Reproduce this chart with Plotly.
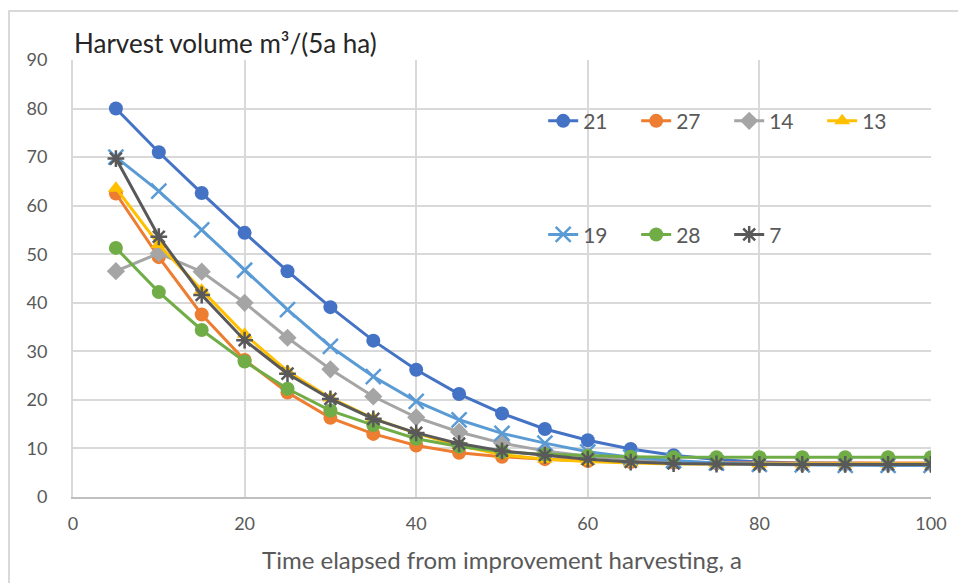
import plotly.graph_objects as go

# Years since improvement harvesting
years = [5, 10, 15, 20, 25, 30, 35, 40, 45, 50, 55, 60, 65, 70, 75, 80, 85, 90, 95, 100]

# Harvest volume per stand, m3 per 5-year period per hectare
stand_21 = [80.0, 71.0, 62.6, 54.4, 46.5, 39.1, 32.2, 26.2, 21.2, 17.2, 14.0, 11.7, 9.9, 8.6, 7.7, 7.2, 7.0, 6.9, 6.9, 6.9]
stand_27 = [62.5, 49.4, 37.6, 28.2, 21.5, 16.3, 13.0, 10.6, 9.1, 8.3, 7.8, 7.4, 7.2, 7.1, 7.0, 7.0, 7.0, 7.0, 7.0, 7.0]
stand_14 = [46.5, 50.2, 46.4, 40.0, 32.8, 26.3, 20.7, 16.4, 13.4, 11.1, 9.5, 8.4, 7.7, 7.3, 7.0, 6.9, 6.8, 6.8, 6.8, 6.8]
stand_13 = [63.6, 52.0, 42.6, 33.5, 25.9, 20.4, 16.2, 13.1, 10.6, 8.7, 7.8, 7.3, 7.0, 6.8, 6.8, 6.8, 6.8, 6.8, 6.8, 6.8]
stand_19 = [70.0, 63.0, 55.0, 46.7, 38.6, 31.0, 24.8, 19.7, 15.9, 13.1, 11.1, 9.3, 8.2, 7.5, 7.0, 6.7, 6.6, 6.5, 6.5, 6.5]
stand_28 = [51.3, 42.2, 34.4, 27.9, 22.3, 17.8, 14.8, 12.0, 10.4, 9.3, 8.8, 8.5, 8.3, 8.2, 8.2, 8.2, 8.2, 8.2, 8.2, 8.2]
stand_7 = [69.7, 53.6, 41.6, 32.3, 25.4, 20.2, 16.1, 13.2, 11.0, 9.5, 8.6, 7.8, 7.2, 6.9, 6.8, 6.7, 6.7, 6.7, 6.7, 6.7]

x_ticks = [0, 20, 40, 60, 80, 100]
y_ticks = [0, 10, 20, 30, 40, 50, 60, 70, 80, 90]

FONT = "Lato"
TEXT_GREY = "#595959"
GRID = "#d9d9d9"

series = [
    ("21", stand_21, "#4472C4", "circle", "legend", 14),
    ("27", stand_27, "#ED7D31", "circle", "legend", 14),
    ("14", stand_14, "#A5A5A5", "diamond", "legend", 14),
    ("13", stand_13, "#FFC000", "triangle-up", "legend", 14),
    ("19", stand_19, "#5B9BD5", "x-thin-open", "legend2", 15),
    ("28", stand_28, "#70AD47", "circle", "legend2", 14),
    ("7", stand_7, "#595959", "asterisk-open", "legend2", 14),
]

fig = go.Figure()
for name, vals, color, symbol, leg, size in series:
    marker = dict(symbol=symbol, size=size, color=color)
    if symbol.endswith("-open"):
        marker["line"] = dict(color=color, width=2.5)
    else:
        marker["line"] = dict(color=color, width=0)
    fig.add_trace(go.Scatter(
        x=years, y=vals, name=name, mode="lines+markers",
        line=dict(color=color, width=3),
        marker=marker, legend=leg,
    ))

legend_style = dict(
    orientation="h", xanchor="left", yanchor="middle",
    font=dict(family=FONT, size=21, color=TEXT_GREY),
    bgcolor="rgba(0,0,0,0)", entrywidth=48, entrywidthmode="pixels",
    itemwidth=30, tracegroupgap=0,
)

fig.update_layout(
    width=958, height=583,
    margin=dict(l=73, r=27, t=60, b=86),
    paper_bgcolor="white", plot_bgcolor="white",
    font=dict(family=FONT, color=TEXT_GREY),
    showlegend=True,
    legend=dict(x=0.548, y=0.86, **legend_style),
    legend2=dict(x=0.548, y=0.60, **legend_style),
    xaxis=dict(
        range=[0, 100], tickvals=x_ticks, showgrid=True, gridcolor=GRID, gridwidth=2,
        zeroline=False, showline=True, linecolor="#bfbfbf", linewidth=2, mirror=False,
        ticks="outside", ticklen=9, tickcolor="rgba(0,0,0,0)",
        tickfont=dict(family=FONT, size=18, color=TEXT_GREY),
        title=dict(text="Time elapsed from improvement harvesting, a",
                   font=dict(family=FONT, size=24, color=TEXT_GREY), standoff=20),
    ),
    yaxis=dict(
        range=[0, 90], tickvals=y_ticks, showgrid=True, gridcolor=GRID, gridwidth=2,
        zeroline=False, showline=True, linecolor=GRID, linewidth=2,
        ticks="outside", ticklen=20, tickcolor="rgba(0,0,0,0)",
        tickfont=dict(family=FONT, size=18, color=TEXT_GREY),
    ),
    annotations=[dict(
        text="Harvest volume m³/(5a ha)", xref="paper", yref="paper",
        x=-1 / 858, y=1 + 17 / 437, xanchor="left", yanchor="middle", showarrow=False,
        font=dict(family=FONT, size=26, color="#262626"),
    )],
    shapes=[dict(
        type="rect", xref="paper", yref="paper",
        x0=-64 / 858, x1=1.2, y0=-0.3, y1=1 + 49 / 437,
        line=dict(color=GRID, width=2), fillcolor="rgba(0,0,0,0)", layer="below",
    )],
)

fig.write_html("out.html")
